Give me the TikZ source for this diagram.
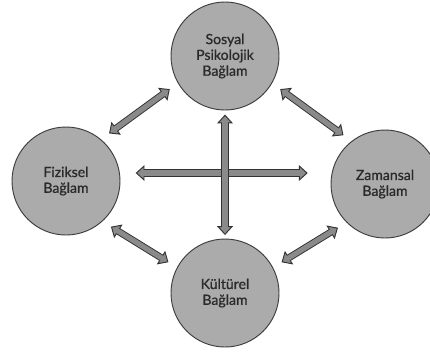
\documentclass[tikz,border=0pt]{standalone}
\usepackage{fontspec}
\setmainfont{Lato}[FakeBold=0.8]
\usepackage{tikz}
\usetikzlibrary{arrows.meta}
\definecolor{circfill}{HTML}{ABABAB}
\definecolor{circline}{HTML}{3C3C3C}
\definecolor{arrfill}{HTML}{8A8A8A}
\definecolor{arrline}{HTML}{333333}
\definecolor{txtgray}{HTML}{2A2A2A}
\tikzset{
    ctx/.style={circle, draw=circline, fill=circfill, line width=0.8pt, minimum size=3.24cm,
        align=center, text=txtgray, font=\fontsize{12}{13.5}\selectfont},
    blockarrow/.style n args={2}{line width=6pt, draw=arrline, {Triangle[width=13.5pt, length=7.5pt, line width=0.8pt, fill=arrfill]}-{Triangle[width=13.5pt, length=7.5pt, line width=0.8pt, fill=arrfill]},
        shorten <=#1, shorten >=#2,
        postaction={draw=arrfill, line width=4.4pt, arrows=-, shorten <=#1+6pt, shorten >=#2+6pt}},
}

\begin{document}
\begin{tikzpicture}[x=0.03cm, y=-0.03cm]
    \useasboundingbox (0,0) rectangle (430,351);

    \node[ctx] at (225, 56)  (c_sos) {Sosyal\\Psikolojik\\Bağlam};
    \node[ctx] at (66, 181)  (c_fiz) {Fiziksel\\Bağlam};
    \node[ctx] at (385, 184) (c_zam) {Zamansal\\Bağlam};
    \node[ctx] at (225, 293) (c_kul) {Kültürel\\Bağlam};
    \coordinate (mid) at (225, 173);

    % diagonal links
    \draw[blockarrow={8.5pt}{8.5pt}] (c_fiz.50) -- (c_sos.210);
    \draw[blockarrow={8.5pt}{8.5pt}] (c_sos.330) -- (c_zam.128);
    \draw[blockarrow={8.5pt}{8.5pt}] (c_fiz.312) -- (c_kul.152);
    \draw[blockarrow={8.5pt}{8.5pt}] (c_kul.28) -- (c_zam.225);

    % cross in the middle
    \draw[blockarrow={13pt}{19.5pt}] (c_fiz.east |- mid) -- (c_zam.west |- mid);
    \draw[blockarrow={3.5pt}{3pt}] (c_sos.south) -- (c_kul.north);
\end{tikzpicture}
\end{document}
